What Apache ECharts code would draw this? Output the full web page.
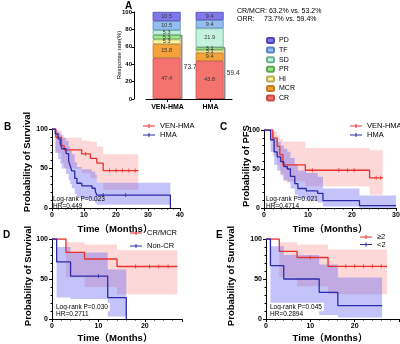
<!DOCTYPE html>
<html>
<head>
<meta charset="utf-8">
<script src="https://cdn.jsdelivr.net/npm/echarts@6/dist/echarts.min.js"></script>
<style>
  html, body { margin: 0; padding: 0; background: #fff; }
  #main { width: 400px; height: 344px; }
</style>
</head>
<body>
<div id="main"></div>
<script>
// ---- panel A: response rates (%)
const responseGroups = ['VEN-HMA', 'HMA'];
const crRate  = [47.4, 43.8];
const mcrRate = [15.8, 9.4];
const hiRate  = [5.3, 3.1];
const prRate  = [5.3, 3.1];
const sdRate  = [5.3, 21.9];
const tfRate  = [10.5, 9.4];
const pdRate  = [10.5, 9.4];
const orrRate = [73.7, 59.4];

// ---- panel B: overall survival, VEN-HMA vs HMA
const bRedT  = [0, 1.2, 3, 3.8, 9.3, 12, 14, 16, 27];
const bRedS  = [100, 89.5, 78.9, 73.7, 68.4, 62.7, 56.9, 47.4, 47.4];
const bRedLo = [100, 70, 57, 50, 44, 38, 32, 23, 23];
const bRedHi = [100, 98, 93, 89, 85, 84, 78, 68, 68];
const bRedCens = [10.5, 18, 20, 22, 24, 26];
const bRedCensS = [68.4, 47.4, 47.4, 47.4, 47.4, 47.4];
const bBlueT  = [0, 1, 1.9, 2.6, 3.1, 4.4, 5.2, 5.7, 6.2, 7.1, 7.8, 9.3, 12.5, 13.5, 14, 37];
const bBlueS  = [100, 93.8, 87.5, 81.3, 75, 68.8, 59.4, 53.1, 46.9, 37.5, 31.3, 28.1, 25, 21.9, 16.4, 0];
const bBlueLo = [100, 70, 62, 56, 50, 43, 35, 30, 25, 18, 13, 11, 9, 6, 4, 4];
const bBlueHi = [100, 99, 96, 93, 89, 85, 78, 73, 68, 58, 52, 49, 46, 42, 32, 32];
const bBlueCens = [16, 23];
const bBlueCensS = [16.4, 16.4];

// ---- panel C: PFS, VEN-HMA vs HMA
const cRedT  = [0, 2, 3, 3.6, 4.3, 9.4, 24, 27];
const cRedS  = [100, 89.5, 78.9, 68.4, 55.3, 48.4, 38.7, 38.7];
const cRedLo = [100, 67, 55, 44, 34, 28, 17, 17];
const cRedHi = [100, 98, 93, 88, 85, 77, 74, 74];
const cRedCens = [11, 17, 19, 20.5, 25.5, 26.5];
const cRedCensS = [48.4, 48.4, 48.4, 48.4, 38.7, 38.7];
const cBlueT  = [0, 1.5, 2.3, 3, 3.8, 4.5, 5.3, 6, 7, 7.7, 9.6, 12.2, 13.4, 21.7, 30];
const cBlueS  = [100, 87.5, 71.9, 65.6, 59.4, 53.1, 50, 40.6, 31.3, 25, 21.9, 18.8, 9.4, 3.1, 3.1];
const cBlueLo = [100, 72, 55, 48, 42, 36, 33, 25, 17, 12, 10, 7, 2, 0, 0];
const cBlueHi = [100, 97, 89, 85, 80, 76, 72, 64, 55, 48, 45, 40, 25, 16, 16];

// ---- panel D: survival, CR/MCR vs Non-CR
const dRedT  = [0, 3, 7, 14, 27];
const dRedS  = [100, 83.3, 75, 65.6, 65.6];
const dRedLo = [100, 52, 40, 31, 31];
const dRedHi = [100, 96, 93, 86, 86];
const dRedCens = [18, 21, 23, 25];
const dRedCensS = [65.6, 65.6, 65.6, 65.6];
const dBlueT  = [0, 1, 4, 12, 16];
const dBlueS  = [100, 71.4, 53.6, 26.8, 0];
const dBlueLo = [100, 27, 25, 3, 3];
const dBlueHi = [100, 90, 83, 62, 62];
const dBlueCens = [10];
const dBlueCensS = [53.6];

// ---- panel E: survival, >=2 vs <2
const eRedT  = [0, 3, 7, 14, 27.3];
const eRedS  = [100, 84.6, 76.9, 65.9, 65.9];
const eRedLo = [100, 52, 41, 31, 31];
const eRedHi = [100, 96, 93, 87, 87];
const eRedCens = [10, 18, 20, 22, 24, 26];
const eRedCensS = [76.9, 65.9, 65.9, 65.9, 65.9, 65.9];
const eBlueT  = [0, 1, 4, 12, 16.2, 26.2];
const eBlueS  = [100, 66.7, 50, 33.3, 16.7, 16.7];
const eBlueLo = [100, 20, 12, 5, 2, 2];
const eBlueHi = [100, 91, 80, 68, 52, 52];

const FONT = 'Liberation Sans, Arial, Noto Sans CJK SC, sans-serif';
const RED = '#e8302e', BLUE = '#2b2aa8';
const RED_BAND = 'rgba(245,125,130,0.3)', BLUE_BAND = 'rgba(90,90,240,0.36)';
// legend glyph: short line with a censor tick
const KM_ICON = 'path://M0,5H24V7H0Z M11,2H13V10H11Z';

const chart = echarts.init(document.getElementById('main'));

function pts(t, s) { return t.map((v, i) => [v, s[i]]); }

function kmLine(name, t, s, color, gi) {
  return {
    name, type: 'line', xAxisIndex: gi, yAxisIndex: gi, step: 'end', symbol: 'none',
    data: pts(t, s), lineStyle: { color, width: 1.3 }, itemStyle: { color }, z: 4, silent: true
  };
}
// confidence band: one step-shaped polygon built from the rows through the axes
function band(t, lo, hi, fill, gi) {
  return {
    type: 'custom', xAxisIndex: gi, yAxisIndex: gi, z: 2, silent: true,
    data: t.map((v, i) => [v, lo[i], hi[i]]),
    renderItem: (params, api) => {
      if (params.dataIndex !== 0) return null;
      const top = [], bot = [];
      for (let i = 0; i < t.length; i++) {
        const x0 = t[i], x1 = i < t.length - 1 ? t[i + 1] : t[i];
        top.push(api.coord([x0, hi[i]]), api.coord([x1, hi[i]]));
        bot.push(api.coord([x0, lo[i]]), api.coord([x1, lo[i]]));
      }
      return { type: 'polygon', shape: { points: top.concat(bot.reverse()) },
        style: { fill, stroke: null } };
    }
  };
}
function censor(t, s, color, gi) {
  return { type: 'scatter', xAxisIndex: gi, yAxisIndex: gi, symbol: 'rect', symbolSize: [1, 4],
    data: pts(t, s), itemStyle: { color }, z: 5, silent: true };
}

const axisBase = {
  axisLine: { show: true, onZero: false, lineStyle: { color: '#000', width: 1 } },
  axisTick: { show: true, length: 3, lineStyle: { color: '#000' } },
  minorTick: { show: true, splitNumber: 5, length: 1.5, lineStyle: { color: '#000' } },
  splitLine: { show: false }
};
function kmX(gi, max, labelMax) {
  return Object.assign({}, axisBase, {
    type: 'value', gridIndex: gi, min: 0, max, interval: 10,
    axisLabel: { fontSize: 7, fontWeight: 'bold', color: '#000', margin: 4, fontFamily: FONT,
      formatter: v => (v % 10 === 0 && v <= labelMax) ? String(v) : '' }
  });
}
function kmY(gi) {
  return Object.assign({}, axisBase, {
    type: 'value', gridIndex: gi, min: 0, max: 100, interval: 50,
    axisLabel: { fontSize: 7, fontWeight: 'bold', color: '#000', margin: 4, fontFamily: FONT }
  });
}

function txt(x, y, s, st, extra) {
  return Object.assign({ type: 'text', x, y, z: 100, silent: true,
    style: Object.assign({ text: s, fontSize: 7, fontFamily: FONT, fill: '#000',
      align: 'left', verticalAlign: 'middle', textAlign: 'left', textVerticalAlign: 'middle' }, st) }, extra || {});
}
function vtxt(x, y, s, st) {
  return txt(x, y, s, Object.assign({ align: 'center', textAlign: 'center' }, st), { rotation: Math.PI / 2 });
}
const titleStyle = { fontSize: 9.5, fontWeight: 'bold', align: 'center', textAlign: 'center' };
const yTitleStyle = { fontSize: 9.5, fontWeight: 'bold' };
const letterStyle = { fontSize: 10, fontWeight: 'bold' };
const boxed = { fontSize: 6.5, backgroundColor: '#fff', padding: [1, 2] };

const barLabel = { show: true, position: 'inside', fontSize: 5.5, color: '#333', fontFamily: FONT };
const respSeries = [
  ['CR', crRate, '#f4736f', '#c84a46'],
  ['MCR', mcrRate, '#f5a23a', '#c27a20'],
  ['HI', hiRate, '#f7f3a0', '#b5ad5a'],
  ['PR', prRate, '#9ee68f', '#5fa050'],
  ['SD', sdRate, '#c4f2de', '#6ab090'],
  ['TF', tfRate, '#94bdf0', '#5a85c0'],
  ['PD', pdRate, '#7f78eb', '#4f47b0']
].map(([name, data, color, border]) => ({
  name, type: 'bar', stack: 'resp', xAxisIndex: 0, yAxisIndex: 0, barWidth: 28, barGap: '-94%',
  data, itemStyle: { color, borderColor: border, borderWidth: 0.8 }, label: barLabel, z: 3
}));
respSeries.push({
  name: 'ORR', type: 'bar', xAxisIndex: 0, yAxisIndex: 0, barWidth: 28, barGap: '-94%',
  data: orrRate, itemStyle: { color: '#fff', borderColor: '#555', borderWidth: 1 }, z: 1,
  label: { show: true, position: 'right', distance: 1.5, fontSize: 6.5, color: '#222', fontFamily: FONT }
});

const kmLegend = (left, top, data, itemWidth, itemGap) => ({
  left, top, orient: 'vertical', padding: 0, itemWidth, itemHeight: 6, itemGap, data,
  icon: KM_ICON, selectedMode: false,
  textStyle: { fontSize: 7.5, lineHeight: 8, color: '#000', fontFamily: FONT }
});

chart.setOption({
  animation: false,
  backgroundColor: '#fff',
  grid: [
    { left: 146, top: 12, width: 86, height: 87, outerBoundsMode: 'none' },
    { left: 52, top: 129, width: 128, height: 79, outerBoundsMode: 'none' },
    { left: 264, top: 130, width: 132, height: 78, outerBoundsMode: 'none' },
    { left: 52, top: 239, width: 130, height: 80, outerBoundsMode: 'none' },
    { left: 266, top: 239, width: 133, height: 80, outerBoundsMode: 'none' }
  ],
  xAxis: [
    { type: 'category', gridIndex: 0, data: responseGroups,
      axisLine: { show: true, lineStyle: { color: '#000' } },
      axisTick: { show: true, alignWithLabel: true, length: 3, lineStyle: { color: '#000' } },
      axisLabel: { interval: 0, fontSize: 7, fontWeight: 'bold', color: '#000', margin: 5, fontFamily: FONT } },
    kmX(1, 40, 40), kmX(2, 30, 30), kmX(3, 28, 20), kmX(4, 30, 20)
  ],
  yAxis: [
    { type: 'value', gridIndex: 0, min: 0, max: 100, interval: 20, offset: 12,
      axisLine: { show: true, lineStyle: { color: '#000' } },
      axisTick: { show: true, length: 2.5, lineStyle: { color: '#000' } },
      splitLine: { show: false },
      axisLabel: { fontSize: 6, fontWeight: 'bold', color: '#000', margin: 2, fontFamily: FONT } },
    kmY(1), kmY(2), kmY(3), kmY(4)
  ],
  legend: [
    { left: 266, top: 36, orient: 'vertical', padding: 0, itemWidth: 7, itemHeight: 5, itemGap: 0.6,
      selectedMode: false, data: ['PD', 'TF', 'SD', 'PR', 'HI', 'MCR', 'CR'],
      textStyle: { fontSize: 7, lineHeight: 9, color: '#000', fontFamily: FONT } },
    kmLegend(143, 122, ['VEN-HMA', 'HMA'], 12, 1),
    kmLegend(350, 122, ['VEN-HMA', 'HMA'], 12, 1),
    kmLegend(130, 229, ['CR/MCR', 'Non-CR'], 12, 5),
    kmLegend(360, 233, ['≥2', '<2'], 12, -0.5)
  ],
  series: [].concat(
    respSeries,
    band(bRedT, bRedLo, bRedHi, RED_BAND, 1),
    band(bBlueT, bBlueLo, bBlueHi, BLUE_BAND, 1),
    kmLine('VEN-HMA', bRedT, bRedS, RED, 1),
    kmLine('HMA', bBlueT, bBlueS, BLUE, 1),
    censor(bRedCens, bRedCensS, RED, 1),
    censor(bBlueCens, bBlueCensS, BLUE, 1),
    band(cRedT, cRedLo, cRedHi, RED_BAND, 2),
    band(cBlueT, cBlueLo, cBlueHi, BLUE_BAND, 2),
    kmLine('VEN-HMA', cRedT, cRedS, RED, 2),
    kmLine('HMA', cBlueT, cBlueS, BLUE, 2),
    censor(cRedCens, cRedCensS, RED, 2),
    band(dRedT, dRedLo, dRedHi, RED_BAND, 3),
    band(dBlueT, dBlueLo, dBlueHi, BLUE_BAND, 3),
    kmLine('CR/MCR', dRedT, dRedS, RED, 3),
    kmLine('Non-CR', dBlueT, dBlueS, BLUE, 3),
    censor(dRedCens, dRedCensS, RED, 3),
    censor(dBlueCens, dBlueCensS, BLUE, 3),
    band(eRedT, eRedLo, eRedHi, RED_BAND, 4),
    band(eBlueT, eBlueLo, eBlueHi, BLUE_BAND, 4),
    kmLine('≥2', eRedT, eRedS, RED, 4),
    kmLine('<2', eBlueT, eBlueS, BLUE, 4),
    censor(eRedCens, eRedCensS, RED, 4)
  ),
  graphic: [
    txt(125, 6, 'A', letterStyle),
    txt(237, 11, 'CR/MCR: 63.2% vs. 53.2%', { fontSize: 7 }),
    txt(237, 19, 'ORR:', { fontSize: 7 }),
    txt(264, 19, '73.7% vs. 59.4%', { fontSize: 7 }),
    vtxt(119, 55, 'Response rate(%)', { fontSize: 6 }),
    txt(4, 127, 'B', letterStyle),
    txt(220, 127, 'C', letterStyle),
    txt(3, 235, 'D', letterStyle),
    txt(216, 235, 'E', letterStyle),
    vtxt(27, 162, 'Probability of Survival', yTitleStyle),
    vtxt(246, 166, 'Probability of PFS', yTitleStyle),
    vtxt(28, 276, 'Probability of Survival', yTitleStyle),
    vtxt(231, 276, 'Probability of Survival', yTitleStyle),
    txt(115, 229, 'Time（Months）', titleStyle),
    txt(330, 229, 'Time（Months）', titleStyle),
    txt(115, 338, 'Time（Months）', titleStyle),
    txt(330, 338, 'Time（Months）', titleStyle),
    txt(53, 199, 'Log-rank P=0.023', { fontSize: 6.5 }),
    txt(53, 206, 'HR=0.449', { fontSize: 6.5 }),
    txt(266, 199, 'Log-rank P=0.021', { fontSize: 6.5 }),
    txt(266, 206, 'HR=0.4714', { fontSize: 6.5 }),
    txt(54, 307, 'Log-rank P=0.030', boxed),
    txt(54, 314, 'HR=0.2711', boxed),
    txt(268, 307, 'Log-rank P=0.045', boxed),
    txt(268, 314, 'HR=0.2894', boxed)
  ]
});
</script>
</body>
</html>
